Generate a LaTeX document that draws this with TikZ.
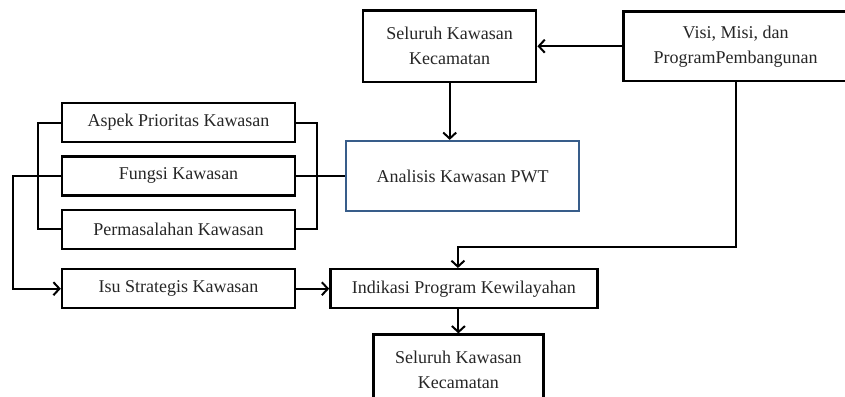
\documentclass[tikz,border=0pt]{standalone}
\usepackage{fontspec}
\setmainfont{Liberation Serif}
\usepackage{tikz}
\usetikzlibrary{positioning, arrows.meta}
\definecolor{FrameBlue}{RGB}{56,93,138}

\begin{document}
\begin{tikzpicture}[
  x=1pt, y=1pt,
  font=\fontsize{18}{25}\selectfont,
  textcolour/.style={text=black!85},
  flowbox/.style={draw, line width=2.4pt, textcolour, align=center, inner sep=2pt},
  listbox/.style={flowbox, minimum width=233pt, minimum height=39pt},
  twolinebox/.style={flowbox, minimum width=173pt, minimum height=71pt},
  analysisbox/.style={draw=FrameBlue, line width=2pt, textcolour, minimum width=233pt, minimum height=70pt},
  linkline/.style={line width=2pt},
  linkarrow/.style={linkline, -{Straight Barb[length=6pt, width=13pt]}}
]
\useasboundingbox (0,0) rectangle (845,-396);

% left column
\node[listbox] (aspek) at (178.5,-122.5) {Aspek Prioritas Kawasan};
\node[listbox, below=12pt of aspek] (fungsi) {Fungsi Kawasan};
\node[listbox, below=12pt of fungsi] (masalah) {Permasalahan Kawasan};
\node[listbox, below=18pt of masalah] (isu) {Isu Strategis Kawasan};

% middle and right
\node[analysisbox, right=49pt of fungsi] (analisis) {Analisis Kawasan PWT};
\node[twolinebox, above=57pt of analisis, xshift=-13pt] (atas) {Seluruh Kawasan\\Kecamatan};
\node[twolinebox, right=85pt of atas, minimum width=224pt, minimum height=69pt] (visi) {Visi, Misi, dan\\ProgramPembangunan};
\node[listbox, right=33pt of isu, minimum width=267pt] (indikasi) {Indikasi Program Kewilayahan};
\node[twolinebox, below=24pt of indikasi, xshift=-5.5pt, minimum width=170pt] (bawah) {Seluruh Kawasan\\Kecamatan};
\coordinate[above=21pt of indikasi.north, xshift=-6pt] (belok);

% connectors
\draw[linkline] (aspek.west) -- ++(-23,0) |- (masalah.west);
\draw[linkline] (aspek.east) -- ++(21,0) |- (masalah.east);
\draw[linkline] (fungsi) -- (analisis);
\draw[linkarrow] (fungsi.west) -- ++(-48,0) |- (isu.west);
\draw[linkarrow] (visi.west) -- (visi.west -| atas.east);
\draw[linkarrow] (atas) -- (atas |- analisis.north);
\draw[linkarrow] (visi.south) |- (belok) -- (belok |- indikasi.north);
\draw[linkarrow] (isu) -- (indikasi);
\draw[linkarrow] (bawah.north |- indikasi.south) -- (bawah.north);
\end{tikzpicture}
\end{document}
